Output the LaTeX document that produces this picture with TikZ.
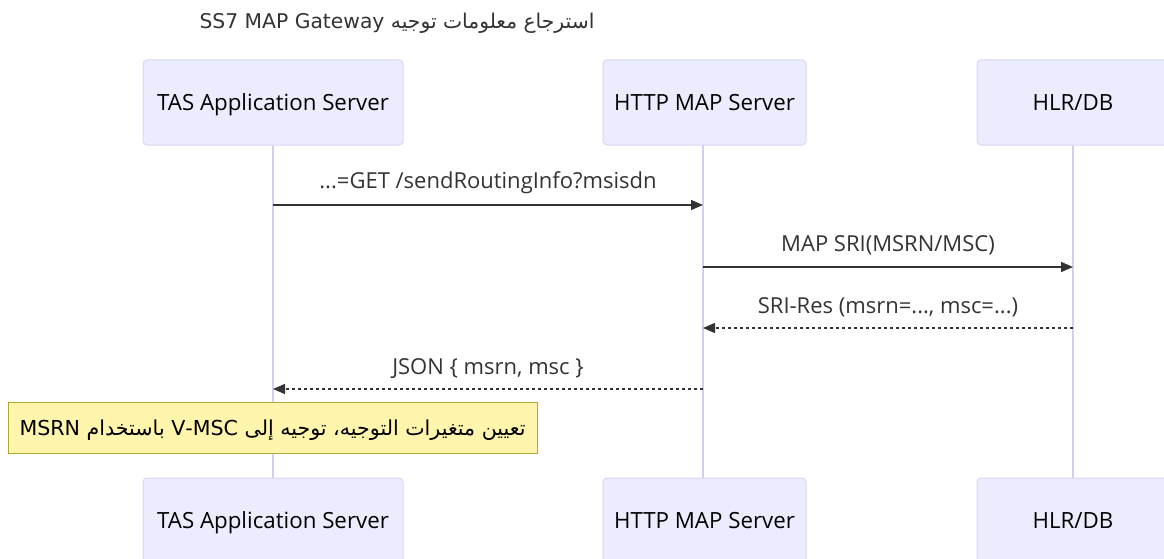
\documentclass[tikz,border=0pt]{standalone}
\usepackage{fontspec}
\setmainfont{Open Sans}
\newfontfamily\arabicfont[Script=Arabic]{DejaVu Sans}
\TeXXeTstate=1
\usetikzlibrary{arrows.meta}
\definecolor{actfill}{HTML}{ECECFF}
\definecolor{actline}{HTML}{DCD6F5}
\definecolor{lifec}{HTML}{D6CEF2}
\definecolor{txt}{HTML}{333333}
\definecolor{notefill}{HTML}{FFF5AD}
\definecolor{noteline}{HTML}{AAAA33}
\tikzset{
  actor/.style={draw=actline, fill=actfill, line width=1pt, rounded corners=4pt,
    minimum height=85pt, inner sep=0pt, text=black, text height=15.5pt, text depth=0pt,
    font=\fontsize{22.3}{26}\selectfont},
  lifeline/.style={draw=lifec, line width=1.5pt},
  msgtxt/.style={text=txt, inner sep=0pt, text height=15.5pt, text depth=0pt,
    font=\fontsize{22}{26}\selectfont},
  msgline/.style={draw=txt, line width=1.5pt, -{Triangle[length=12pt,width=10pt]}},
  dotline/.style={msgline, dash pattern=on 3pt off 3pt},
  notebox/.style={draw=noteline, fill=notefill, line width=1pt, inner sep=0pt,
    minimum height=51pt, minimum width=529pt, text=black, text height=15pt, text depth=0pt},
  titletxt/.style={text=txt, inner sep=0pt, text height=15pt, text depth=0pt}
}
\begin{document}
\begin{tikzpicture}[x=1pt,y=-1pt]
\useasboundingbox (0,0) rectangle (1164,559);
\node[titletxt] (title) at (397,21) {\arabicfont\fontsize{20.3}{24}\selectfont\beginR استرجاع معلومات توجيه \beginL SS7 MAP Gateway\endL\endR};
% actors top
\node[actor, minimum width=260pt] (tasT) at (273,102.5) {TAS Application Server};
\node[actor, minimum width=203pt] (httpT) at (704.5,102.5) {HTTP MAP Server};
\node[actor, minimum width=192pt] (hlrT) at (1073,102.5) {HLR/DB};
% actors bottom
\node[actor, minimum width=260pt] (tasB) at (273,520.5) {TAS Application Server};
\node[actor, minimum width=203pt] (httpB) at (704.5,520.5) {HTTP MAP Server};
\node[actor, minimum width=192pt] (hlrB) at (1073,520.5) {HLR/DB};
% lifelines
\draw[lifeline] (tasT.south) -- (tasB.north);
\draw[lifeline] (703,145) coordinate (httpL1) -- (703,478) coordinate (httpL2);
\draw[lifeline] (hlrT.south) -- (hlrB.north);
% message endpoints
\coordinate (m1s) at (273,205); \coordinate (m1e) at (703,205);
\coordinate (m2s) at (703,267); \coordinate (m2e) at (1073,267);
\coordinate (m3s) at (1073,328); \coordinate (m3e) at (703,328);
\coordinate (m4s) at (703,389); \coordinate (m4e) at (273,389);
% messages
\node[msgtxt] (l1) at (488,181) {...=GET /sendRoutingInfo?msisdn};
\draw[msgline] (m1s) -- (m1e);
\node[msgtxt] (l2) at (888,244) {MAP SRI(MSRN/MSC)};
\draw[msgline] (m2s) -- (m2e);
\node[msgtxt] (l3) at (888,306) {SRI-Res (msrn=..., msc=...)};
\draw[dotline] (m3s) -- (m3e);
\node[msgtxt] (l4) at (488,367) {JSON \{ msrn, msc \}};
\draw[dotline] (m4s) -- (m4e);
% note
\node[notebox] (note) at (272.5,427.5) {\arabicfont\fontsize{20.6}{24}\selectfont\beginR تعيين متغيرات التوجيه، توجيه إلى \beginL V-MSC\endL{} باستخدام \beginL MSRN\endL\endR};
\end{tikzpicture}
\end{document}
